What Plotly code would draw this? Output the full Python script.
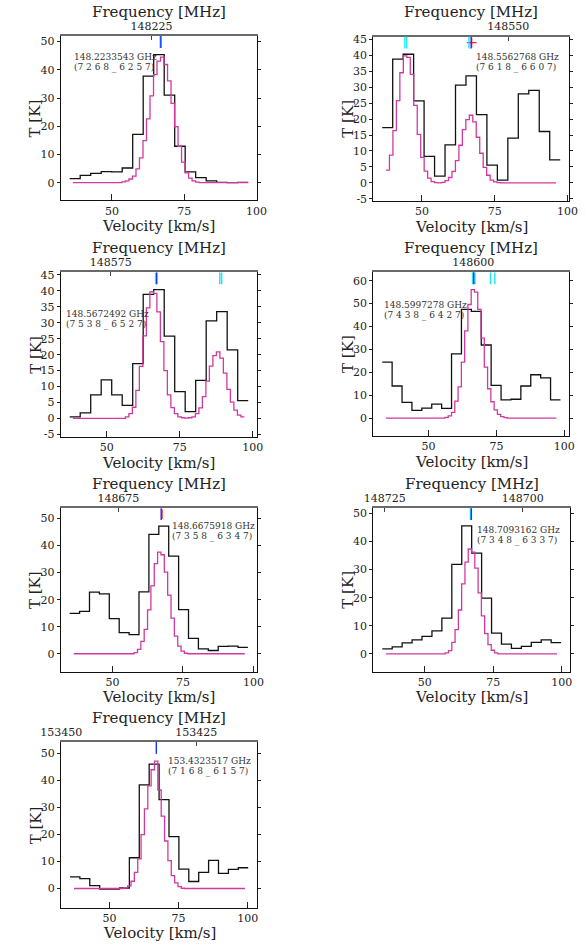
import numpy as np
import plotly.graph_objects as go

C_KMS = 299792.458
V_REF = 67.0  # km/s, velocity at which the rest frequency is placed

# ---------------- data ----------------
rest_freq_ghz = [148.2233543, 148.5562768, 148.5672492, 148.5997278,
                 148.6675918, 148.7093162, 153.4323517]
qn_labels = ["(7 2 6 8 _ 6 2 5 7)", "(7 6 1 8 _ 6 6 0 7)", "(7 5 3 8 _ 6 5 2 7)",
             "(7 4 3 8 _ 6 4 2 7)", "(7 3 5 8 _ 6 3 4 7)", "(7 3 4 8 _ 6 3 3 7)",
             "(7 1 6 8 _ 6 1 5 7)"]

# observed spectra (black): channel range [km/s] and brightness temperature [K]
obs_v_start = [35.40, 36.37, 37.26, 32.93, 34.77, 34.51, 35.65]
obs_v_end = [97.15, 97.46, 98.45, 98.57, 98.06, 99.73, 100.20]
obs_T1 = [1.4, 2.6, 3.3, 3.9, 3.8, 5.2, 17.1, 37.8, 45.4, 31.0, 12.9, 3.8, 1.8, 0.6, 0.1, 0.0, 0.1]
obs_T2 = [17.3, 38.8, 40.3, 25.7, 8.3, 2.1, 11.9, 30.6, 33.5, 21.4, 5.6, 0.9, 14.0, 27.9, 29.0, 16.1, 7.2]
obs_T3 = [0.5, 1.7, 7.4, 12.1, 7.4, 4.1, 17.2, 38.9, 40.4, 25.8, 8.4, 2.1, 11.9, 30.6, 33.5, 21.5, 5.6]
obs_T4 = [24.4, 14.0, 6.8, 3.3, 4.3, 6.1, 4.2, 28.0, 47.5, 46.6, 31.9, 14.3, 7.9, 8.2, 14.0, 18.9, 17.5, 7.9]
obs_T5 = [14.9, 15.7, 22.8, 22.1, 13.0, 7.8, 7.1, 22.9, 44.1, 47.2, 36.1, 16.3, 5.7, 1.8, 1.2, 2.7, 2.8, 2.4]
obs_T6 = [1.8, 2.5, 3.9, 5.0, 6.2, 8.2, 12.7, 31.8, 45.5, 35.8, 19.8, 7.4, 3.5, 2.0, 2.7, 4.1, 5.0, 4.0]
obs_T7 = [4.3, 3.7, 1.1, -0.2, -0.2, 0.2, 11.4, 38.4, 46.1, 32.9, 19.2, 7.2, 2.6, 6.0, 10.4, 5.6, 7.1, 7.7]

# model spectra (magenta)
mod_v_start = [36.49, 37.66, 38.34, 34.32, 36.22, 35.89, 37.11]
mod_v_end = [97.15, 96.06, 97.15, 97.07, 96.95, 98.24, 99.06]
mod_T1 = [0.0] * 14 + [0.3, 0.6, 1.3, 2.3, 4.9, 8.8, 14.9, 22.6, 30.8, 38.3, 43.1, 44.5, 41.9,
                       36.1, 28.1, 19.9, 12.9, 7.3, 3.5, 1.6, 0.6, 0.2] + [0.0] * 14
mod_T2 = [4.0, 8.7, 16.4, 25.8, 34.5, 39.8, 39.3, 34.0, 24.3, 15.2, 8.0, 3.7, 1.5, 0.4, 0.1, 0.0,
          0.2, 0.7, 1.7, 3.6, 7.0, 11.8, 16.7, 19.8, 21.2, 19.1, 14.3, 9.3, 4.9, 2.4, 0.9, 0.3,
          0.1] + [0.0] * 16
mod_T3 = [0.0] * 15 + [0.5, 1.5, 3.5, 8.8, 16.3, 25.9, 34.7, 39.7, 39.2, 33.4, 24.1, 15.0, 7.4,
                       3.4, 1.5, 0.5, 0.2, 0.1, 0.2, 0.5, 1.5, 3.3, 6.8, 11.7, 16.4, 19.7, 20.9,
                       18.9, 14.2, 9.1, 5.1, 2.6, 1.0, 0.5]
mod_T4 = [0.0] * 18 + [0.3, 0.9, 2.5, 7.4, 13.6, 24.4, 38.1, 49.6, 56.1, 55.0, 47.5, 34.9, 22.2,
                       12.8, 7.1, 3.6, 1.6, 0.6, 0.2] + [0.0] * 15
mod_T5 = [0.0] * 18 + [0.4, 1.6, 4.6, 9.0, 16.2, 25.1, 33.3, 37.6, 36.6, 30.2, 21.7, 13.2, 6.5,
                       2.8, 1.0, 0.2] + [0.0] * 17
mod_T6 = [0.0] * 18 + [0.4, 1.2, 4.1, 8.6, 15.6, 24.9, 32.6, 37.3, 36.2, 30.5, 21.7, 13.5, 7.2,
                       3.3, 1.3, 0.4] + [0.0] * 18
mod_T7 = [0.0] * 15 + [0.3, 1.0, 2.7, 6.0, 11.0, 20.0, 29.5, 38.0, 44.0, 47.2, 36.5, 26.8, 17.6,
                       10.3, 4.8, 2.1, 0.7, 0.1] + [0.0] * 18

obs_T = [obs_T1, obs_T2, obs_T3, obs_T4, obs_T5, obs_T6, obs_T7]
mod_T = [mod_T1, mod_T2, mod_T3, mod_T4, mod_T5, mod_T6, mod_T7]

# line markers (velocities, km/s)
blue_marks = [[66.95], [66.9], [67.1], [66.62], [67.26], [67.0], [66.92]]
cyan_marks = [[66.7], [44.15, 44.8, 66.16], [66.7, 88.7, 89.35],
              [66.17, 67.08, 72.8, 74.4], [], [66.66], []]
red_marks = [[], [67.1], [], [], [67.6], [], []]
red_symbols = ["cross-thin", "cross-thin", "cross-thin", "cross-thin", "line-ns", "cross-thin", "cross-thin"]

# ---------------- layout / style ----------------
W, H = 586, 952
FONT = "DejaVu Serif"
BLACK = "#111111"
MAGENTA = "#d2399f"
BLUE = "#1030ff"
CYAN = "#19e6f0"

frames = [(42, 32.3, 249.3, 198.3), (372, 33, 578.7, 199), (42, 271, 249.3, 437),
          (372, 271, 579, 436), (42, 509, 249, 674), (372, 509, 579.7, 674),
          (42.3, 745, 249.3, 912.3)]
y_ranges = [(-6.3, 52), (-5.7, 45.8), (-5.8, 45.8), (-7.8, 63.6), (-6.6, 53.8),
            (-6.3, 51.8), (-7.1, 54.3)]
y_dticks = [10, 5, 5, 10, 10, 10, 10]
label_pos = [(54.3, 53.3), (478, 53.3), (45, 313.3), (381.3, 304), (157.7, 527.3),
             (479, 530.7), (152.7, 764)]


def px_x(p):
    return p / W


def px_y(p):
    return 1 - p / H


fig = go.Figure()
layout = dict(width=W, height=H, margin=dict(l=0, r=0, t=0, b=0),
              paper_bgcolor="white", plot_bgcolor="white", showlegend=False,
              font=dict(family=FONT, color="#222"))
annotations = []
shapes = []

for i in range(7):
    n = i + 1
    sx = "" if n == 1 else str(n)
    xb, yb = f"x{sx}", f"y{sx}"
    xt = f"x{n + 7}"
    l, t, r, b = frames[i]
    dom_x = [px_x(l), px_x(r)]
    dom_y = [px_y(b), px_y(t)]

    vs, ve = obs_v_start[i], obs_v_end[i]
    span = ve - vs
    xa, xb_ = vs - 0.05 * span, ve + 0.05 * span
    ya, yb_ = y_ranges[i]
    yr = yb_ - ya

    # observed spectrum
    To = obs_T[i]
    e_o = np.linspace(vs, ve, len(To) + 1)
    fig.add_trace(go.Scatter(x=e_o, y=list(To) + [To[-1]], mode="lines", line_shape="hv",
                             line=dict(color=BLACK, width=1.3), xaxis=xb, yaxis=yb,
                             hoverinfo="skip"))
    # model spectrum
    Tm = mod_T[i]
    e_m = np.linspace(mod_v_start[i], mod_v_end[i], len(Tm) + 1)
    fig.add_trace(go.Scatter(x=e_m, y=list(Tm) + [Tm[-1]], mode="lines", line_shape="hv",
                             line=dict(color=MAGENTA, width=1.3), xaxis=xb, yaxis=yb,
                             hoverinfo="skip"))

    # markers at top of the panel
    for v in cyan_marks[i]:
        shapes.append(dict(type="line", xref=xb, yref=f"{yb} domain", x0=v, x1=v,
                           y0=1 - 12 / (b - t), y1=1, line=dict(color=CYAN, width=1.4),
                           layer="above"))
    for v in blue_marks[i]:
        shapes.append(dict(type="line", xref=xb, yref=f"{yb} domain", x0=v, x1=v,
                           y0=1 - 12 / (b - t), y1=1, line=dict(color=BLUE, width=1.4),
                           layer="above"))
    if red_marks[i]:
        yred = yb_ - 6 / (b - t) * yr
        fig.add_trace(go.Scatter(x=red_marks[i], y=[yred] * len(red_marks[i]), mode="markers",
                                 marker=dict(symbol=red_symbols[i], size=7,
                                             line=dict(color="#ff2020", width=1.2)),
                                 xaxis=xb, yaxis=yb, hoverinfo="skip", cliponaxis=False))

    tick_font = dict(family=FONT, size=11, color="#222")
    yt = list(range(int(np.ceil(ya / y_dticks[i]) * y_dticks[i]), int(yb_) + 1, y_dticks[i]))

    layout[f"xaxis{sx}"] = dict(domain=dom_x, anchor=yb, range=[xa, xb_], tick0=0, dtick=25,
                                ticks="inside", ticklen=6, tickwidth=1, tickcolor="#222",
                                showline=True, linecolor=BLACK, linewidth=1, mirror=False,
                                showgrid=False, zeroline=False, tickfont=tick_font)
    layout[f"yaxis{sx}"] = dict(domain=dom_y, anchor=xb, range=[ya, yb_], tickvals=yt,
                                ticktext=[str(v) for v in yt], ticks="outside", ticklen=3,
                                tickwidth=1, tickcolor="#222", showline=True,
                                linecolor=BLACK, linewidth=1, mirror="ticks",
                                showgrid=False, zeroline=False, tickfont=tick_font)
    # helper axis to give the y ticks an in/out look
    layout[f"yaxis{n + 7}"] = dict(overlaying=yb, anchor=xb, side="left", range=[ya, yb_],
                                   tickvals=yt, ticks="inside", ticklen=3, tickwidth=1,
                                   tickcolor="#222", mirror="ticks", showline=False,
                                   showticklabels=False, showgrid=False, zeroline=False)
    # frequency axis on top
    f0 = rest_freq_ghz[i] * 1000.0
    fa = f0 * (1 - (xa - V_REF) / C_KMS)
    fb = f0 * (1 - (xb_ - V_REF) / C_KMS)
    layout[f"xaxis{n + 7}"] = dict(overlaying=xb, anchor=yb, side="top", range=[fa, fb],
                                   tick0=0, dtick=25, tickformat="d", ticks="inside",
                                   ticklen=4, tickwidth=1, tickcolor="#444",
                                   showline=True, linecolor="#6a6a6a", linewidth=2,
                                   showgrid=False, zeroline=False, tickfont=tick_font)
    # invisible trace so the top axis is attached to a subplot
    fig.add_trace(go.Scatter(x=[fa, fb], y=[None, None], mode="lines", xaxis=xt, yaxis=yb,
                             hoverinfo="skip", showlegend=False))

    cx = (l + r) / 2
    cy = (t + b) / 2
    title_font = dict(family=FONT, size=15, color="#222")
    annotations.append(dict(text="Frequency [MHz]", x=px_x(cx), y=px_y(t - 24.5), xref="paper",
                            yref="paper", showarrow=False, font=title_font,
                            xanchor="center", yanchor="middle"))
    annotations.append(dict(text="Velocity [km/s]", x=px_x(cx), y=px_y(b + 26), xref="paper",
                            yref="paper", showarrow=False, font=title_font,
                            xanchor="center", yanchor="middle"))
    annotations.append(dict(text="T [K]", x=px_x(l - 27), y=px_y(cy), xref="paper",
                            yref="paper", showarrow=False, font=title_font, textangle=-90,
                            xanchor="center", yanchor="middle"))
    lx, ly = label_pos[i]
    lab_font = dict(family=FONT, size=9, color="#333")
    annotations.append(dict(text=f"{rest_freq_ghz[i]:.7f} GHz", x=px_x(lx), y=px_y(ly),
                            xref="paper", yref="paper", showarrow=False, font=lab_font,
                            xanchor="left", yanchor="middle"))
    annotations.append(dict(text=qn_labels[i], x=px_x(lx), y=px_y(ly + 10.7),
                            xref="paper", yref="paper", showarrow=False, font=lab_font,
                            xanchor="left", yanchor="middle"))

layout["annotations"] = annotations
layout["shapes"] = shapes
fig.update_layout(**layout)
fig.write_html("out.html", config={"displayModeBar": False, "staticPlot": True},
               post_script="document.body.style.margin='0';document.body.style.overflow='hidden';")
